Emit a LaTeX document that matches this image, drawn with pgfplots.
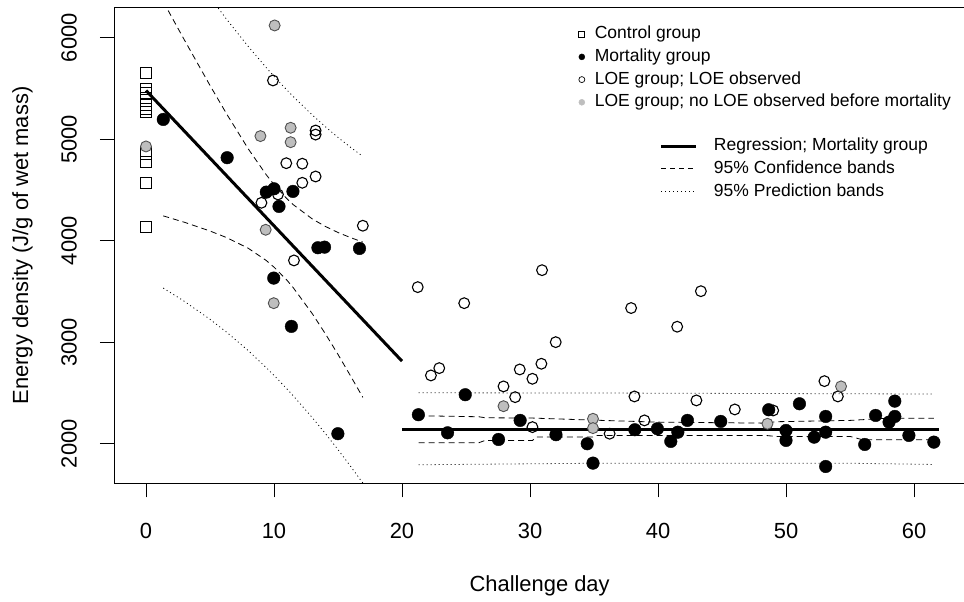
\documentclass[border=0pt]{standalone}
\usepackage{pgfplots}
\pgfplotsset{compat=1.18}
\usepackage{fontspec}
\setmainfont{Liberation Sans}
\definecolor{ptgray}{HTML}{BEBEBE}
\definecolor{ptedge}{HTML}{505050}
\begin{document}
\begin{tikzpicture}
\begin{axis}[
  scale only axis,
  width=851.2pt, height=476pt,
  xmin=-2.5, xmax=64.0, ymin=1609, ymax=6298.5,
  xtick={0,10,20,30,40,50,60}, ytick={2000,3000,4000,5000,6000},
  tick pos=left, tick align=outside,
  major tick length=14pt,
  tick style={black, line width=0.8pt},
  axis line style={line width=0.9pt},
  /pgf/number format/assume math mode=true,
  /pgf/number format/1000 sep={},
  ticklabel style={font=\fontsize{21.9}{26}\selectfont, inner sep=0pt},
  xticklabel style={anchor=north},
  xticklabel shift=25.5pt,
  yticklabel style={rotate=90, anchor=south, yshift=23pt},
  xlabel={Challenge day}, ylabel={Energy density (J/g of wet mass)},
  label style={font=\fontsize{21.9}{26}\selectfont, inner sep=0pt},
  xlabel style={at={(axis description cs:0.5,-0.1933)}, anchor=north},
  ylabel style={at={(axis description cs:-0.1198,0.5)}, anchor=north},
  legend style={at={(axis description cs:0.5461,0.9607)}, anchor=north west, draw=none, fill=none,
    inner sep=0pt, outer sep=0pt, font=\fontsize{17.5}{21}\selectfont,
    row sep=6.6pt, column sep=10pt,
    nodes={inner sep=0pt, text height=12.6pt, text depth=3.5pt}},
  legend cell align=left,
  legend image code/.code={\draw[mark repeat=2,mark phase=2,#1] plot coordinates {(0pt,0pt) (4pt,0pt) (8pt,0pt)};},
]
\addlegendimage{only marks, mark=square, mark size=3pt, mark options={line width=0.7pt, black}}
\addlegendentry{Control group}
\addlegendimage{only marks, mark=*, mark size=3pt, mark options={black, fill=black}}
\addlegendentry{Mortality group}
\addlegendimage{only marks, mark=o, mark size=3pt, mark options={line width=0.7pt, black}}
\addlegendentry{LOE group; LOE observed}
\addlegendimage{only marks, mark=*, mark size=3pt, mark options={ptgray, fill=ptgray}}
\addlegendentry{LOE group; no LOE observed before mortality}

\coordinate (bbsw) at (axis cs:-11.406,444.8);
\coordinate (bbne) at (axis cs:63.906,6371.8);

% Control group
\addplot[only marks, mark=square, mark size=5.5pt, mark options={black, line width=0.9pt}, forget plot] coordinates {
(0,5650) (0,5500) (0,5460) (0,5410) (0,5340) (0,5300) (0,5270) (0,4860) (0,4780) (0,4570) (0,4140)};

% LOE observed (open)
\addplot[only marks, mark=o, mark size=5.4pt, mark options={black, line width=1.1pt}, forget plot] coordinates {
(9.92,5579) (13.25,5086) (13.25,5046) (10.96,4764) (12.21,4759) (12.21,4571) (13.25,4633) (9.02,4374) (10.31,4456) (16.94,4148) (11.56,3806)
(21.23,3543) (24.86,3385) (22.26,2673) (22.91,2745) (27.93,2565) (28.84,2459) (29.2,2732) (30.19,2640) (30.89,2788) (32.01,3001) (30.19,2164) (30.94,3710) (36.22,2099) (37.9,3337) (38.16,2466) (38.94,2230) (41.5,3153) (43.0,2427) (43.35,3503) (46.0,2338) (49.0,2328) (53.0,2617) (54.05,2466)};

% LOE no LOE observed (gray)
\addplot[only marks, mark=*, mark size=5.5pt, mark options={draw=ptedge, fill=ptgray, line width=0.9pt}, forget plot] coordinates {
(10.05,6121) (11.3,5113) (11.3,4971) (8.94,5031) (0,4929) (9.35,4108) (9.98,3385) (27.93,2370) (34.92,2246) (34.92,2154) (48.55,2197) (54.3,2565)};

% Mortality group
\addplot[only marks, mark=*, mark size=6.3pt, mark options={black, fill=black}, forget plot] coordinates {
(1.35,5195) (6.34,4818) (9.4,4479) (10.0,4512) (11.48,4486) (10.39,4338) (13.43,3931) (13.95,3937) (16.68,3924) (9.98,3632) (11.36,3156) (14.99,2099)
(21.28,2286) (23.56,2108) (24.94,2483) (27.54,2042) (29.23,2230) (32.03,2089) (34.47,2000) (34.92,1809) (38.19,2138) (39.95,2148) (41.0,2023) (41.55,2114) (42.3,2230) (44.9,2220) (48.65,2335) (50.0,2131) (50.0,2033) (51.05,2394) (52.2,2065) (53.1,2114) (53.1,2269) (53.1,1776) (56.15,1993) (57.0,2279) (58.05,2213) (58.5,2269) (58.5,2420) (59.6,2082) (61.55,2016)};

% Regression lines
\addplot[black, line width=3pt, forget plot] coordinates {(0,5480) (20,2814)};
\addplot[black, line width=3pt, forget plot] coordinates {(20,2140) (61.96,2140)};

% Confidence bands (dashed)
\addplot[black, line width=0.8pt, dash pattern=on 6pt off 4pt, forget plot] coordinates {
(1.35,6355) (3,5978) (5,5530) (6.34,5241) (8,4903) (9.4,4649) (10,4554) (11,4415) (11.5,4356) (13,4214) (14,4142) (15,4081) (16,4030) (16.94,3987)};
\addplot[black, line width=0.8pt, dash pattern=on 6pt off 4pt, forget plot] coordinates {
(1.35,4245) (3,4182) (5,4096) (6.34,4029) (8,3925) (9.4,3805) (10,3740) (11,3613) (11.5,3538) (13,3280) (14,3086) (15,2880) (16,2664) (16.94,2457)};
\addplot[black, line width=0.8pt, dash pattern=on 6pt off 4pt, forget plot] coordinates {
(21.3,2276) (26,2266) (26.5,2256) (30.2,2253) (34.9,2233) (40,2213) (48.4,2203) (49.2,2217) (55,2230) (58,2252) (61.55,2252)};
\addplot[black, line width=0.8pt, dash pattern=on 6pt off 4pt, forget plot] coordinates {
(21.3,2010) (26,2010) (26.5,2033) (30.2,2033) (30.5,2066) (34.9,2066) (35.2,2082) (48.4,2082) (49.2,2072) (55,2072) (56,2039) (61.55,2039)};

% Prediction bands (dotted)
\addplot[black, line width=0.8pt, dash pattern=on 1pt off 3pt, forget plot] coordinates {
(1.35,7066) (3,6757) (5,6400) (6.34,6175) (8,5912) (9.4,5705) (10,5620) (11,5486) (11.5,5421) (13,5238) (14,5125) (15,5018) (16,4919) (16.94,4831)};
\addplot[black, line width=0.8pt, dash pattern=on 1pt off 3pt, forget plot] coordinates {
(1.35,3534) (3,3403) (5,3226) (6.34,3095) (8,2916) (9.4,2749) (10,2674) (11,2542) (11.5,2473) (13,2256) (14,2103) (15,1942) (16,1775) (16.94,1613)};
\addplot[black, line width=0.8pt, dash pattern=on 1pt off 3pt, forget plot] coordinates {
(21.3,2502) (35,2500) (61.55,2490)};
\addplot[black, line width=0.8pt, dash pattern=on 1pt off 3pt, forget plot] coordinates {
(21.3,1793) (35,1808) (55,1808) (61.55,1796)};
\end{axis}

\begin{axis}[
  scale only axis, width=851.2pt, height=476pt,
  hide axis, xmin=0, xmax=1, ymin=0, ymax=1,
  legend style={at={(axis description cs:0.6414,0.7254)}, anchor=north west, draw=none, fill=none,
    inner sep=0pt, outer sep=0pt, font=\fontsize{17.5}{21}\selectfont,
    row sep=6.6pt, column sep=16pt,
    nodes={inner sep=0pt, text height=12.6pt, text depth=3.5pt}},
  legend cell align=left,
  legend image code/.code={\draw[#1] (0pt,0pt) -- (35pt,0pt);},
]
\addlegendimage{black, line width=3pt}
\addlegendentry{Regression; Mortality group}
\addlegendimage{black, line width=0.8pt, dash pattern=on 5pt off 4pt}
\addlegendentry{95\% Confidence bands}
\addlegendimage{black, line width=0.8pt, dash pattern=on 1pt off 3pt}
\addlegendentry{95\% Prediction bands}
\end{axis}
\pgfresetboundingbox
\useasboundingbox (bbsw) rectangle (bbne);
\end{tikzpicture}
\end{document}
